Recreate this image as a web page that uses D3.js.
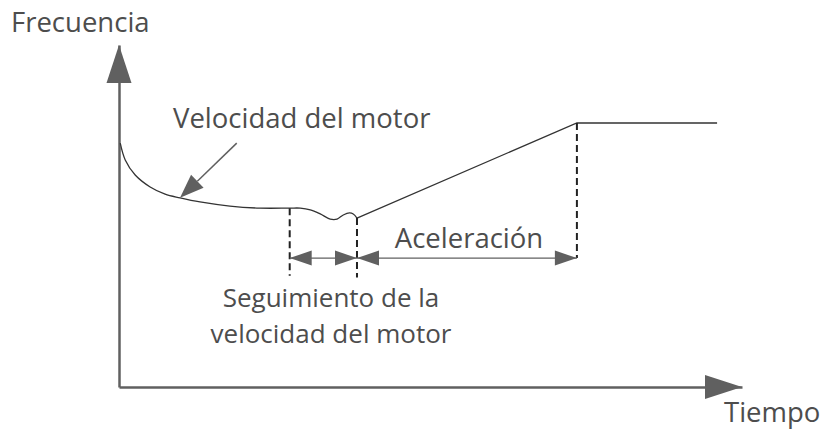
<!DOCTYPE html>
<html>
  <head>
    <meta charset="utf-8">
    <title>Frecuencia vs Tiempo</title>
    <script src="https://d3js.org/d3.v7.min.js"></script>
    <style>
      body { margin: 0; background: #fff; }
      svg text { font-family: "Open Sans", sans-serif; fill: #4d4d4d; }
    </style>
  </head>
  <body>
    <div id="chart"></div>
    <script>
      // curve: motor speed decay then the small dip during tracking
      var curveT = [0.2, 1, 2.6, 5, 7.4, 9.8, 13, 17.8, 22.6, 27.4, 29.1, 30.7, 32.3, 33.9, 35, 36, 37, 37.6, 38.2];
      var curveF = [71.3, 66.4, 62, 58.5, 56.4, 55.3, 54.1, 52.9, 52.3, 52.3, 52.3, 51.8, 50.6, 49.1, 49.1, 50.3, 50.9, 50.6, 49.4];
      // acceleration ramp then constant
      var rampT = [38.2, 73.5, 96];
      var rampF = [49.4, 77.2, 77.2];
      // marks: start of tracking, start of acceleration, end of acceleration
      var markT = [27.4, 38.2, 73.5];
      var markTop = [52.3, 49.4, 77.2];
      var markBottom = [32.5, 32, 37.7];
      var arrowF = 37.7;
      var labels = {
        yAxis: "Frecuencia",
        xAxis: "Tiempo",
        speed: "Velocidad del motor",
        accel: "Aceleración",
        track: ["Seguimiento de la", "velocidad del motor"]
      };

      var W = 822, H = 430;
      var svg = d3.select("#chart").append("svg")
        .attr("width", W).attr("height", H);

      var x = d3.scaleLinear().domain([0, 100]).range([119, 742]);
      var y = d3.scaleLinear().domain([0, 100]).range([387, 45]);

      var axisColor = "#606060";
      var lineColor = "#333";

      // axes (no ticks)
      svg.append("g")
        .attr("transform", "translate(0," + y(0) + ")")
        .call(d3.axisBottom(x).ticks(0).tickSizeOuter(0))
        .call(function(g) { g.select(".domain").attr("stroke", axisColor).attr("stroke-width", 2.5); });
      svg.append("g")
        .attr("transform", "translate(" + x(0) + ",0)")
        .call(d3.axisLeft(y).ticks(0).tickSizeOuter(0))
        .call(function(g) { g.select(".domain").attr("stroke", axisColor).attr("stroke-width", 2.5); });

      // axis arrowheads
      svg.append("polygon")
        .attr("points", [[x(0), y(100)], [x(0) - 12.5, y(100) + 38], [x(0) + 12.5, y(100) + 38]].join(" "))
        .attr("fill", axisColor);
      svg.append("polygon")
        .attr("points", [[x(100), y(0)], [x(100) - 37, y(0) - 12], [x(100) - 37, y(0) + 12]].join(" "))
        .attr("fill", axisColor);

      // data lines
      var curvePts = curveT.map(function(t, i) { return [t, curveF[i]]; });
      var rampPts = rampT.map(function(t, i) { return [t, rampF[i]]; });

      var smooth = d3.line()
        .x(function(d) { return x(d[0]); })
        .y(function(d) { return y(d[1]); })
        .curve(d3.curveCatmullRom.alpha(0.5));
      var straight = d3.line()
        .x(function(d) { return x(d[0]); })
        .y(function(d) { return y(d[1]); });

      svg.append("path").attr("d", smooth(curvePts))
        .attr("fill", "none").attr("stroke", lineColor).attr("stroke-width", 1.3);
      svg.append("path").attr("d", straight(rampPts))
        .attr("fill", "none").attr("stroke", lineColor).attr("stroke-width", 1.3);

      // dashed marks
      svg.selectAll(".mark").data(markT).enter().append("line")
        .attr("class", "mark")
        .attr("x1", function(d) { return x(d); })
        .attr("x2", function(d) { return x(d); })
        .attr("y1", function(d, i) { return y(markTop[i]); })
        .attr("y2", function(d, i) { return y(markBottom[i]); })
        .attr("stroke", "#222").attr("stroke-width", 2)
        .attr("stroke-dasharray", "7,4");

      // double-headed dimension arrows
      var arrowColor = "#606060";
      function dimArrow(t0, t1) {
        var x0 = x(t0), x1 = x(t1), yy = y(arrowF), L = 22, h = 7.5;
        svg.append("line").attr("x1", x0).attr("x2", x1).attr("y1", yy).attr("y2", yy)
          .attr("stroke", arrowColor).attr("stroke-width", 1.3);
        svg.append("polygon").attr("points", [[x0, yy], [x0 + L, yy - h], [x0 + L, yy + h]].join(" "))
          .attr("fill", arrowColor);
        svg.append("polygon").attr("points", [[x1, yy], [x1 - L, yy - h], [x1 - L, yy + h]].join(" "))
          .attr("fill", arrowColor);
      }
      dimArrow(markT[0], markT[1]);
      dimArrow(markT[1], markT[2]);

      // annotation arrow to the curve
      var tip = [x(curveT[5]), y(curveF[5])];
      var tail = [x(18.9), y(71.3)];
      var ang = Math.atan2(tip[1] - tail[1], tip[0] - tail[0]);
      var hl = 24, hw = 9;
      var bx = tip[0] - hl * Math.cos(ang), by = tip[1] - hl * Math.sin(ang);
      svg.append("line").attr("x1", tail[0]).attr("y1", tail[1]).attr("x2", bx).attr("y2", by)
        .attr("stroke", arrowColor).attr("stroke-width", 1.5);
      svg.append("polygon")
        .attr("points", [tip,
          [bx - hw * Math.sin(ang), by + hw * Math.cos(ang)],
          [bx + hw * Math.sin(ang), by - hw * Math.cos(ang)]].join(" "))
        .attr("fill", arrowColor);

      // texts
      var fs = 27.5;
      svg.append("text").attr("x", 11).attr("y", 32).attr("font-size", fs).text(labels.yAxis);
      svg.append("text").attr("x", 724).attr("y", 422).attr("font-size", fs).text(labels.xAxis);
      svg.append("text").attr("x", 173).attr("y", 128).attr("font-size", fs).text(labels.speed);
      svg.append("text").attr("x", 469).attr("y", 248).attr("font-size", fs)
        .attr("text-anchor", "middle").text(labels.accel);
      svg.selectAll(".track").data(labels.track).enter().append("text")
        .attr("class", "track")
        .attr("x", 331).attr("y", function(d, i) { return 307 + i * 36; })
        .attr("font-size", 26).attr("text-anchor", "middle").text(function(d) { return d; });
    </script>
  </body>
</html>
